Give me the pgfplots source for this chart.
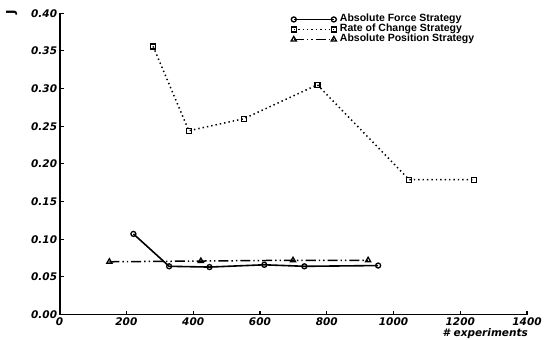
\documentclass[border=0pt]{standalone}
\usepackage{pgfplots}
\pgfplotsset{compat=1.18}
\usepackage{fontspec}
\setmainfont{Liberation Sans}
\newfontfamily\djv{DejaVu Sans}
\begin{document}
\begin{tikzpicture}
\begin{axis}[
  width=467pt, height=301pt, scale only axis,
  xmin=0, xmax=1400, ymin=0, ymax=0.40,
  axis x line=bottom, axis y line=left,
  axis line style={-, line width=1.9pt},
  xtick={0,200,...,1400},
  ytick={0,0.05,...,0.41},
  tick align=inside,
  major tick length=4pt,
  tick style={line width=1.2pt, black},
  /pgf/number format/assume math mode=true,
  yticklabel style={/pgf/number format/fixed, /pgf/number format/fixed zerofill, /pgf/number format/precision=2, xshift=1pt},
  scaled y ticks=false,
  xticklabel style={/pgf/number format/1000 sep={}},
  tick label style={font=\djv\bfseries\itshape\fontsize{10.5}{12}\selectfont},
  xlabel={\#~experiments},
  xlabel style={at={(rel axis cs:1,0)}, anchor=north east, yshift=-13pt, xshift=2pt, inner sep=1pt, font=\djv\bfseries\itshape\fontsize{10.5}{12}\selectfont},
  ylabel={J},
  ylabel style={at={(rel axis cs:0,1)}, anchor=center, yshift=48pt, xshift=1pt, inner xsep=10pt, inner ysep=6pt, font=\djv\bfseries\fontsize{12}{12}\selectfont},
  legend style={draw=none, fill=none, at={(rel axis cs:0.495,0.995)}, anchor=north west,
    font=\bfseries\fontsize{10.5}{9}\selectfont, row sep=1pt, column sep=3pt, inner sep=0pt,
    nodes={inner sep=0.5pt, text height=6.5pt, text depth=1.5pt}},
  legend cell align=left,
  legend image code/.code={\draw[#1] plot coordinates {(0pt,0pt) (40pt,0pt)};},
]
\addplot[black, line width=1.6pt, mark=o, mark size=2.5pt, mark options={solid, line width=1.3pt, fill=white}]
  coordinates {(221,0.107) (328,0.064) (449,0.063) (613,0.066) (733,0.064) (954,0.065)};
\addlegendentry{Absolute Force Strategy}
\addplot[black, line width=1.5pt, dash pattern=on 1.4pt off 3pt, mark=square, mark size=2.5pt, mark options={solid, line width=1.3pt, fill=white}]
  coordinates {(280,0.356) (387,0.244) (552,0.260) (772,0.305) (1047,0.179) (1241,0.179)};
\addlegendentry{Rate of Change Strategy}
\addplot[black, line width=1.5pt, dash pattern=on 10pt off 3pt on 1.4pt off 3pt on 1.4pt off 3pt, mark=triangle, mark size=3pt, mark options={solid, line width=1.3pt, fill=white}]
  coordinates {(149,0.070) (423,0.071) (699,0.072) (924,0.072)};
\addlegendentry{Absolute Position Strategy}
\end{axis}
\end{tikzpicture}
\end{document}
